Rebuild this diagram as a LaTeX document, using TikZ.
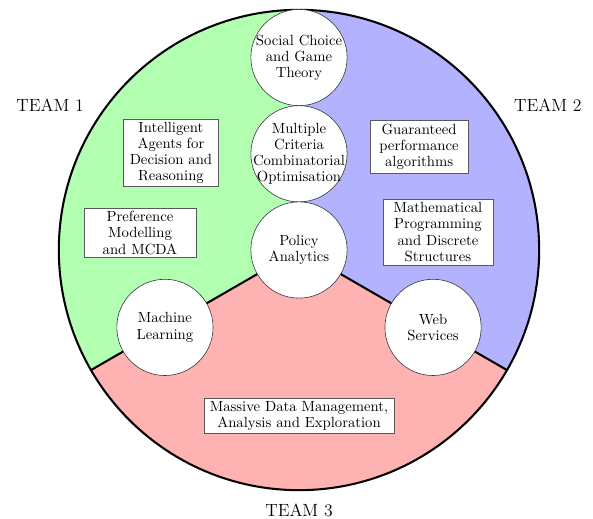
\documentclass[tikz,border=0pt]{standalone}
\usepackage{tikz}
\usetikzlibrary{positioning}

\tikzset{
  topic/.style={circle,draw=black!80,fill=white,minimum size=2.3cm,inner sep=0pt},
  txt/.style={align=center,font=\fontsize{10}{11}\selectfont},
  project/.style={txt,draw=black!65,fill=white,inner sep=2pt},
  team/.style={font=\large},
  boundary/.style={line width=1.4pt},
}

\begin{document}
\begin{tikzpicture}
\def\R{5.74}
\def\r{1.15}
\useasboundingbox (-7.146,-6.429) rectangle (7.027,5.975);
% the three team sectors
\coordinate (hub) at (0,0);
\coordinate (rimtop) at (90:\R);
\coordinate (rimleft) at (210:\R);
\coordinate (rimright) at (330:\R);
\fill[green!30] (hub) -- (rimtop) arc[start angle=90,end angle=210,radius=\R] -- cycle;
\fill[blue!30] (hub) -- (rimright) arc[start angle=-30,end angle=90,radius=\R] -- cycle;
\fill[red!30] (hub) -- (rimleft) arc[start angle=210,end angle=330,radius=\R] -- cycle;
\draw[boundary] (hub) circle[radius=\R];
\draw[boundary] (hub) -- (rimleft);
\draw[boundary] (hub) -- (rimright);

% shared topics (circles)
\node[topic] (social) at (0,4*\r) {};
\node[txt] (social-t) at (social) {Social Choice\\and Game\\Theory};
\node[topic] (multi) at (0,2*\r) {};
\node[txt] (multi-t) at (multi) {Multiple\\Criteria\\Combinatorial\\Optimisation};
\node[topic] (policy) at (hub) {};
\node[txt] (policy-t) at (policy) {Policy\\Analytics};
\node[topic] (ml) at (210:3.7) {};
\node[txt] (ml-t) at (ml) {Machine\\Learning};
\node[topic] (web) at (330:3.7) {};
\node[txt] (web-t) at (web) {Web\\Services};

% team projects (boxes)
\node[project,minimum width=2.27cm,minimum height=1.55cm] (agents) at (-3.06,2.32) {Intelligent\\Agents for\\Decision and\\Reasoning};
\node[project,minimum width=2.68cm,minimum height=1.15cm] (pref) at (-3.80,0.41) {Preference\\Modelling\\and MCDA};
\node[project,minimum width=2.34cm,minimum height=1.27cm] (guar) at (2.87,2.47) {Guaranteed\\performance\\algorithms};
\node[project,minimum width=2.63cm,minimum height=1.58cm] (math) at (3.32,0.43) {Mathematical\\Programming\\and Discrete\\Structures};
\node[project,minimum width=4.54cm,minimum height=0.77cm] (data) at (0,-3.97) {Massive Data Management,\\Analysis and Exploration};

% team labels
\node[team] (team1) at (-5.95,3.45) {TEAM 1};
\node[team] (team2) at (5.95,3.45) {TEAM 2};
\node[team] (team3) at (0,-6.23) {TEAM 3};
\end{tikzpicture}
\end{document}
